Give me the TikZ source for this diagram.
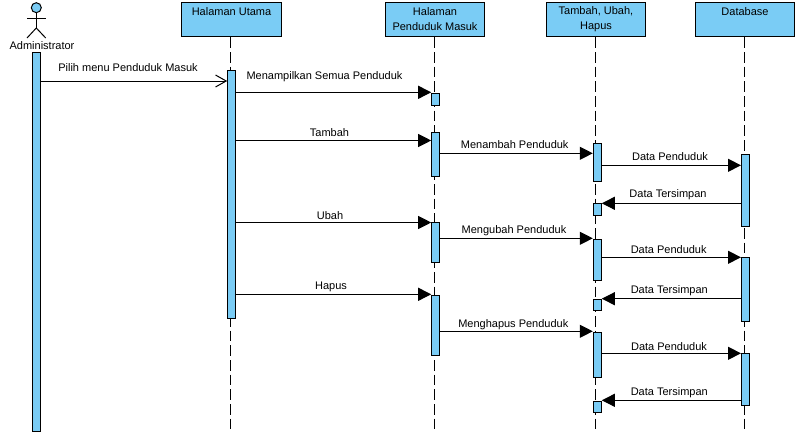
\documentclass[tikz,border=0pt]{standalone}
\usepackage{fontspec}
\setmainfont{Liberation Sans}
\usetikzlibrary{arrows.meta}
\definecolor{seqblue}{HTML}{7ACCF5}
\tikzset{
  head box/.style={draw, fill=seqblue, line width=0.75pt, minimum width=74.5pt, minimum height=26pt, inner sep=0pt, align=center},
  lifeline/.style={line width=0.75pt, dash pattern=on 8pt off 3pt},
  activation/.style={draw, fill=seqblue, line width=0.75pt, minimum width=6pt, inner sep=0pt, anchor=north},
  call/.style={line width=0.75pt, -{Triangle[length=9.75pt, width=9.75pt]}},
  first call/.style={line width=0.75pt, -{Straight Barb[length=8pt, width=9pt, line width=0.75pt]}},
  msg label/.style={inner sep=0pt, yshift=-0.75pt},
}

\begin{document}
\begin{tikzpicture}[x=0.75pt, y=-0.75pt, every node/.style={font=\fontsize{8.25}{11.25}\selectfont}]
  \useasboundingbox (0,0) rectangle (799,436);
  % actor
  \node[circle, draw, fill=seqblue, line width=0.75pt, minimum size=7.5pt, inner sep=0pt] (admin head) at (36.3,7.7) {};
  \coordinate (admin hip) at (36.3,28);
  \coordinate (admin arm l) at (27,18.3);  \coordinate (admin arm r) at (45.7,18.3);
  \coordinate (admin leg l) at (27,38);  \coordinate (admin leg r) at (45.7,38);
  \draw[line width=0.75pt] (admin head) -- (admin hip);
  \draw[line width=0.75pt] (admin arm l) -- (admin arm r);
  \draw[line width=0.75pt] (admin leg l) -- (admin hip) -- (admin leg r);
  \node[msg label] (admin) at (42,45) {Administrator};
  % header boxes
  \node[head box] (utama) at (231.5,19.5) {Halaman Utama\\~};
  \node[head box] (masuk) at (435,19.5) {Halaman\\Penduduk Masuk};
  \node[head box] (tuh) at (596,19.5) {Tambah, Ubah,\\Hapus};
  \node[head box] (db) at (745,19.5) {Database\\~};
  \coordinate (utama-end) at (230.3,431);  \coordinate (masuk-end) at (434,431);
  \coordinate (tuh-end) at (595.3,431);    \coordinate (db-end) at (744.3,431);
  \foreach \pt in {utama,masuk,tuh,db}{\draw[lifeline] (\pt.south -| \pt-end) -- (\pt-end);}
  % activation bars
  \foreach \bar/\x/\ytop/\ybot in {
    a0/36.7/52/431, u0/231.7/70/318,
    m0/435.7/93.3/105.3, m1/435.7/132.3/176.3, m2/435.7/222.3/262.3, m3/435.7/295.3/355.3,
    t0/597.3/143.3/181.3, t1/597.3/203.3/215.3, t2/597.3/239.3/280.3,
    t3/597.3/298.7/310.3, t4/597.3/332.3/377.3, t5/597.3/400.7/412.3,
    d0/745.5/154.3/226.3, d1/745.5/257.3/321.3, d2/745.5/353.3/405.3}{
    \node[activation, minimum height={(\ybot-\ytop)*0.75pt}] (\bar) at (\x,\ytop) {};
  }
  % messages
  \draw[first call] (a0.east |- 0,81) -- (u0.west |- 0,81);
  \foreach \from/\to/\y in {
    u0/m0/92.3, u0/m1/140.5, u0/m2/222.5, u0/m3/294.3,
    m1/t0/153.3, m2/t2/238.3, m3/t4/331.3,
    t0/d0/165.3, t2/d1/257.3, t4/d2/353.3}{
    \draw[call] (\from.east |- 0,\y) -- (\to.west |- 0,\y);
  }
  \foreach \from/\to/\y in {d0/t1/203.3, d1/t3/298.7, d2/t5/400.3}{
    \draw[call] (\from.west |- 0,\y) -- (\to.east |- 0,\y);
  }
  % labels
  \foreach \lab/\x/\y/\txt in {
    l0/128/67/Pilih menu Penduduk Masuk,
    l1/324.5/76/Menampilkan Semua Penduduk,
    l2/329.5/132/Tambah,
    l3/514.7/144/Menambah Penduduk,
    l4/670/156/Data Penduduk,
    l5/668/194/Data Tersimpan,
    l6/330/215/Ubah,
    l7/514/230/Mengubah Penduduk,
    l8/668.7/249/Data Penduduk,
    l9/669.3/290/Data Tersimpan,
    l10/331/286/Hapus,
    l11/513.3/324/Menghapus Penduduk,
    l12/669/346/Data Penduduk,
    l13/669.3/392/Data Tersimpan}{
    \node[msg label] (\lab) at (\x,\y) {\txt};
  }
\end{tikzpicture}
\end{document}
